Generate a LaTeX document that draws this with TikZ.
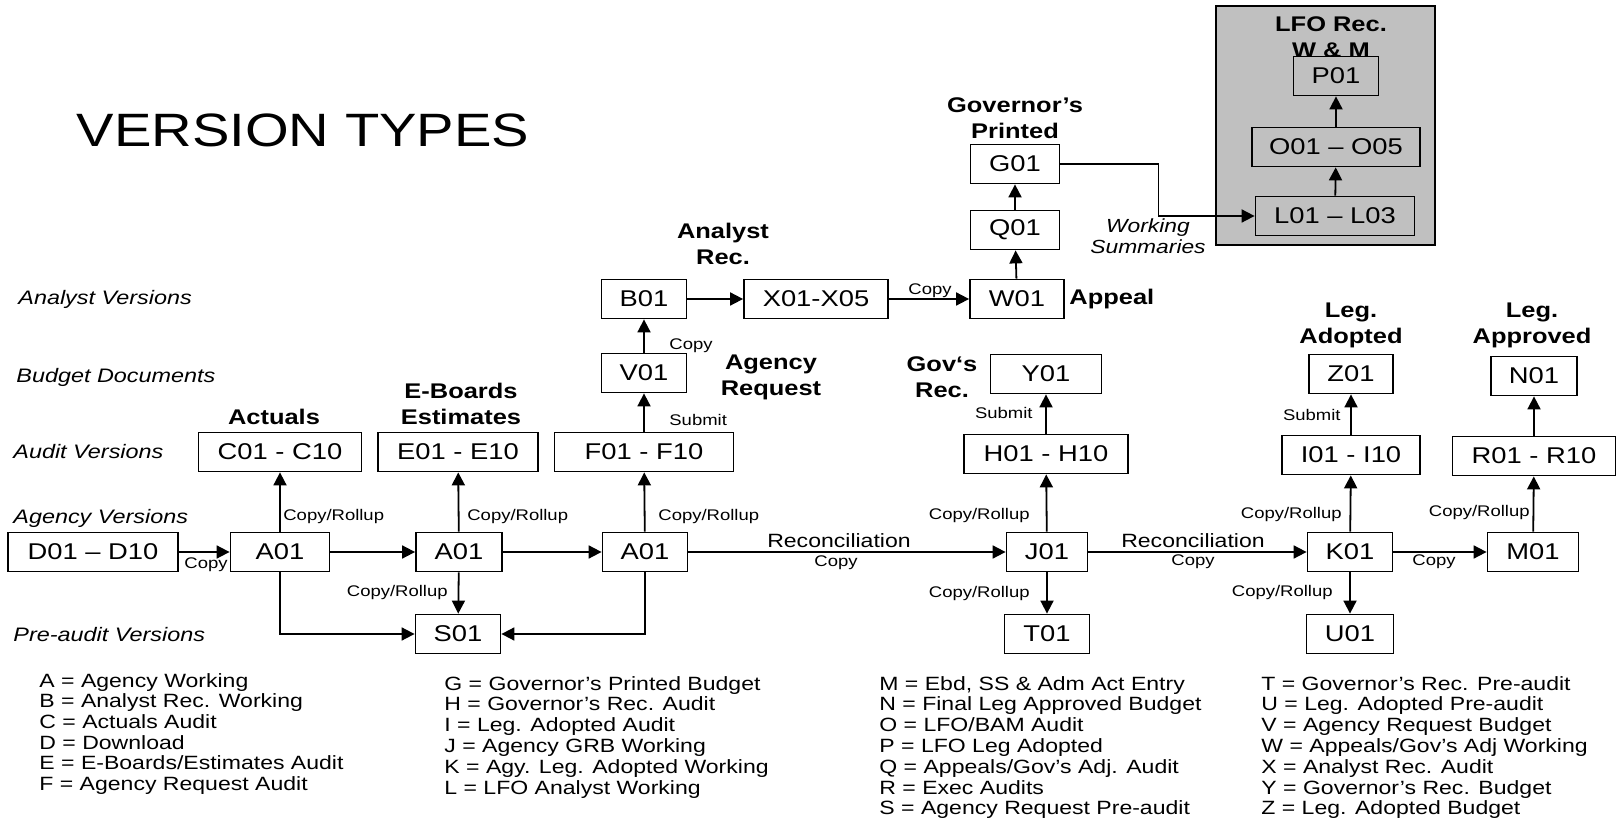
\documentclass[tikz,border=0pt]{standalone}
\usepackage{fontspec}
\setmainfont{Liberation Sans}[FakeStretch=1.2]
\usepackage{tikz}
\usetikzlibrary{arrows.meta}
\definecolor{lfogray}{RGB}{192,192,192}
\tikzstyle{verbox}=[draw, line width=0.9pt, minimum height=19.5pt, inner sep=0pt, fill=white, font=\fontsize{11.4}{13}\selectfont]
\tikzstyle{arr}=[line width=0.9pt, -{Triangle[length=6.5pt,width=6.5pt]}]
\tikzstyle{lbl}=[inner sep=0pt, text height=5.6pt, text depth=1.6pt, font=\fontsize{7.7}{9}\selectfont]
\tikzstyle{recon}=[inner sep=0pt, font=\fontsize{9.6}{11}\selectfont]
\tikzstyle{head}=[inner sep=0pt, align=center, font=\bfseries\fontsize{10.6}{13}\selectfont]
\tikzstyle{rowlbl}=[inner sep=0pt, anchor=west, text height=7pt, text depth=2pt, font=\itshape\fontsize{9.75}{11}\selectfont]
\tikzstyle{legend}=[inner sep=0pt, anchor=west, text height=7pt, text depth=2pt, font=\fontsize{9.6}{11}\selectfont]
\newcommand{\verbox}[4]{
  \node[verbox, minimum width=#3*0.5pt] (#1) at (#2) {#4};
}

\begin{document}
\begin{tikzpicture}[x=0.5pt, y=-0.5pt]
\useasboundingbox (0,0) rectangle (1621,822);

% LFO area
\draw[fill=lfogray, line width=0.6pt] (1216,6) rectangle (1435,245);
\node[head] (lfohead) at (1331,37) {LFO Rec.\\W \& M};

\node[inner sep=0pt, font=\fontsize{23.4}{28}\selectfont] (title) at (303,130) {VERSION TYPES};

\node[rowlbl] (rowanalyst) at (18,300) {Analyst Versions};
\node[rowlbl] (rowbudget) at (16,378) {Budget Documents};
\node[rowlbl] (rowaudit) at (13,454) {Audit Versions};
\node[rowlbl] (rowagency) at (13,519) {Agency Versions};
\node[rowlbl] (rowpre) at (13,636) {Pre-audit Versions};

% agency row
\verbox{D}{93,552}{170}{D01 – D10};
\verbox{A1}{280,552}{99}{A01};
\verbox{A2}{459,552}{86}{A01};
\verbox{A3}{645,552}{85}{A01};
\verbox{J}{1047,552}{81}{J01};
\verbox{K}{1350,552}{85}{K01};
\verbox{M}{1533,552}{91}{M01};

% audit row
\verbox{C}{280,452}{163}{C01 - C10};
\verbox{E}{458,452}{160}{E01 - E10};
\verbox{F}{644,452}{179}{F01 - F10};
\verbox{H}{1046,454}{164}{H01 - H10};
\verbox{I}{1351,455}{138}{I01 - I10};
\verbox{R}{1534,456}{163}{R01 - R10};

% pre-audit row
\verbox{S}{458,634}{85}{S01};
\verbox{T}{1047,634}{85}{T01};
\verbox{U}{1350,634}{87}{U01};

% budget documents
\verbox{V}{644,373}{85}{V01};
\verbox{Y}{1046,374}{111}{Y01};
\verbox{Z}{1351,374}{84}{Z01};
\verbox{N}{1534,376}{86}{N01};

% analyst row
\verbox{B}{644,299}{85}{B01};
\verbox{X}{816,299}{144}{X01-X05};
\verbox{W}{1017,299}{94}{W01};
\verbox{Q}{1015,230}{89}{Q01};
\verbox{G}{1015,164}{89}{G01};

\node[verbox, fill=lfogray, minimum width=79.5pt] (L) at (1335,216) {L01 – L03};
\node[verbox, fill=lfogray, minimum width=84pt] (O) at (1336,147) {O01 – O05};
\node[verbox, fill=lfogray, minimum width=42.5pt] (P) at (1336,76) {P01};

% headings
\node[head] (hactuals) at (274,417) {Actuals};
\node[head] (heboards) at (461,404) {E-Boards\\Estimates};
\node[head] (hanalyst) at (723,244) {Analyst\\Rec.};
\node[head] (hagency) at (771,377) {Agency\\Request};
\node[head] (hgovrec) at (942,377) {Gov‘s\\Rec.};
\node[head] (hgovprint) at (1015,118) {Governor’s\\Printed};
\node[head, anchor=west] (happeal) at (1069,299) {Appeal};
\node[head] (hadopted) at (1351,325) {Leg.\\Adopted};
\node[head] (happroved) at (1532,325) {Leg.\\Approved};
\node[inner sep=0pt, align=center, font=\itshape\fontsize{9.5}{10.5}\selectfont] (hworking) at (1148,236) {Working\\Summaries};

% connectors
\draw[arr] (D) -- (A1);
\draw[arr] (A1) -- (A2);
\draw[arr] (A2) -- (A3);
\draw[arr] (A3) -- (J);
\draw[arr] (J) -- (K);
\draw[arr] (K) -- (M);
\draw[arr] (A1) -- (C);
\draw[arr] (A2) -- (E);
\draw[arr] (A3) -- (F);
\draw[arr] (A2) -- (S);
\draw[arr] (A1) |- (S);
\draw[arr] (A3) |- (S);
\draw[arr] (F) -- (V);
\draw[arr] (V) -- (B);
\draw[arr] (B) -- (X);
\draw[arr] (X) -- (W);
\draw[arr] (W) -- (Q);
\draw[arr] (Q) -- (G);
\draw[arr] (G.east) -- ++(98,0) |- (L);
\draw[arr] (L) -- (O);
\draw[arr] (O) -- (P);
\draw[arr] (J) -- (H);
\draw[arr] (H) -- (Y);
\draw[arr] (J) -- (T);
\draw[arr] (K) -- (I);
\draw[arr] (I) -- (Z);
\draw[arr] (K) -- (U);
\draw[arr] (M) -- (R);
\draw[arr] (R) -- (N);

% connector labels
\node[lbl] (lcopy1) at (206,565) {Copy};
\node[lbl, anchor=west] (lroll1) at (283,517) {Copy/Rollup};
\node[lbl, anchor=west] (lroll2) at (467,517) {Copy/Rollup};
\node[lbl, anchor=east] (lroll3) at (448,593) {Copy/Rollup};
\node[lbl, anchor=west] (lroll4) at (658,517) {Copy/Rollup};
\node[lbl, anchor=west] (lsubmit1) at (669,422) {Submit};
\node[lbl, anchor=west] (lcopy2) at (669,346) {Copy};
\node[lbl] (lcopy3) at (930,291) {Copy};
\node[recon] (lrecon1) at (839,541) {Reconciliation};
\node[lbl] (lcopy4) at (836,563) {Copy};
\node[lbl, anchor=east] (lroll5) at (1030,516) {Copy/Rollup};
\node[lbl, anchor=east] (lroll6) at (1030,594) {Copy/Rollup};
\node[lbl, anchor=east] (lsubmit2) at (1033,415) {Submit};
\node[recon] (lrecon2) at (1193,541) {Reconciliation};
\node[lbl] (lcopy5) at (1193,562) {Copy};
\node[lbl, anchor=east] (lroll7) at (1342,515) {Copy/Rollup};
\node[lbl, anchor=east] (lroll8) at (1333,593) {Copy/Rollup};
\node[lbl, anchor=east] (lsubmit3) at (1341,417) {Submit};
\node[lbl] (lcopy6) at (1434,562) {Copy};
\node[lbl, anchor=east] (lroll9) at (1530,513) {Copy/Rollup};

% legend
\foreach \txt [count=\i] in {A = Agency Working, B = Analyst Rec. Working, C = Actuals Audit, D = Download, E = E-Boards/Estimates Audit, F = Agency Request Audit}
  \node[legend] (legA\i) at (39,682+20.7*\i-20.7) {\txt};
\foreach \txt [count=\i] in {G = Governor’s Printed Budget, H = Governor’s Rec. Audit, I = Leg. Adopted Audit, J = Agency GRB Working, K = Agy. Leg. Adopted Working, L = LFO Analyst Working}
  \node[legend] (legB\i) at (444,685+20.8*\i-20.8) {\txt};
\foreach \txt [count=\i] in {{M = Ebd, SS \& Adm Act Entry}, N = Final Leg Approved Budget, O = LFO/BAM Audit, P = LFO Leg Adopted, Q = Appeals/Gov’s Adj. Audit, R = Exec Audits, S = Agency Request Pre-audit}
  \node[legend] (legC\i) at (879,685+20.8*\i-20.8) {\txt};
\foreach \txt [count=\i] in {T = Governor’s Rec. Pre-audit, U = Leg. Adopted Pre-audit, V = Agency Request Budget, W = Appeals/Gov’s Adj Working, X = Analyst Rec. Audit, Y = Governor’s Rec. Budget, Z = Leg. Adopted Budget}
  \node[legend] (legD\i) at (1261,685+20.8*\i-20.8) {\txt};

\end{tikzpicture}
\end{document}
